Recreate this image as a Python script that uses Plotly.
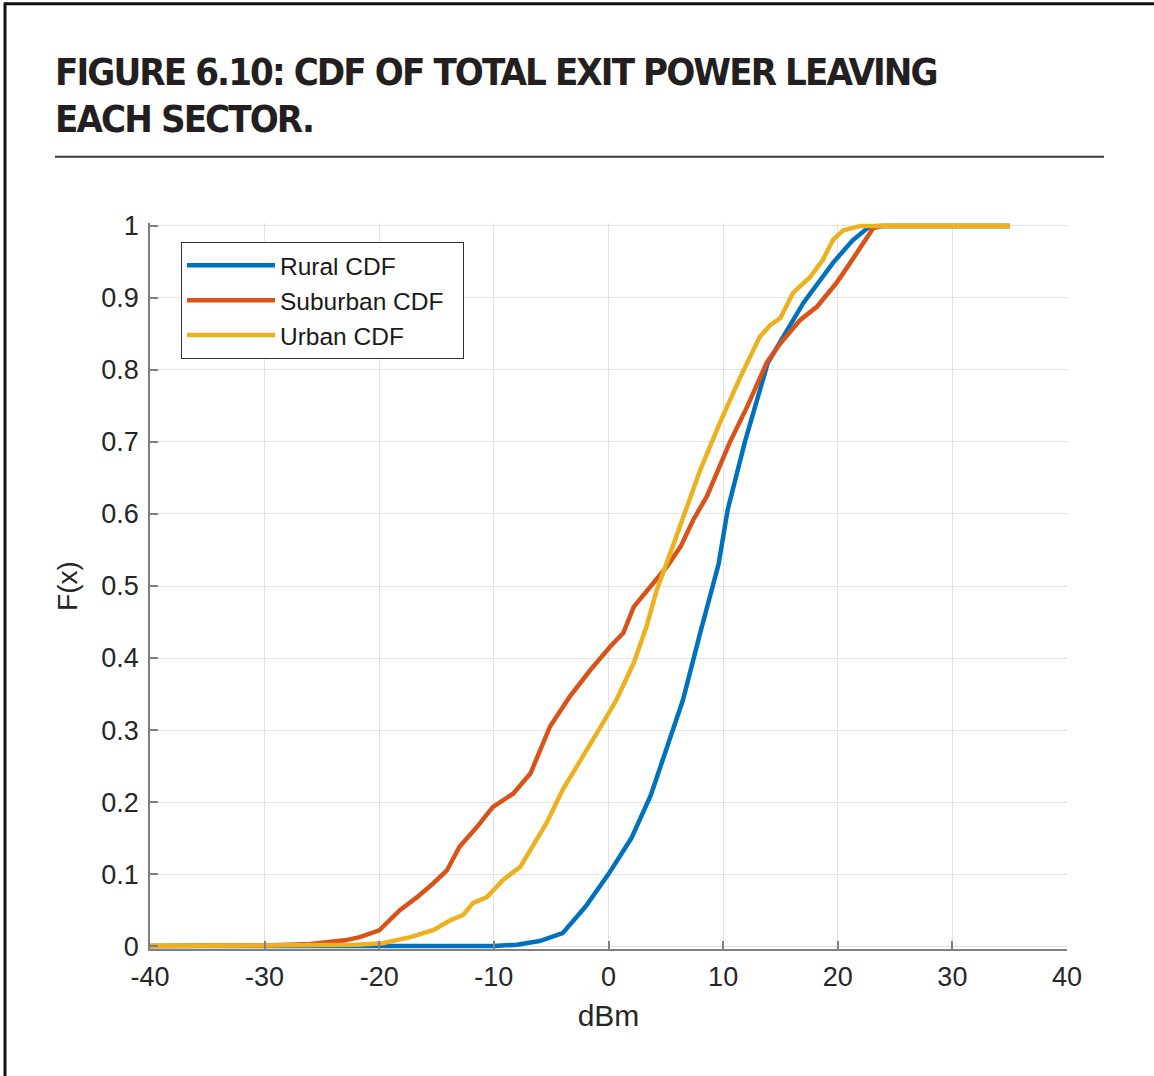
import plotly.graph_objects as go

# ---------------- data ----------------
rural_x = [-40, -25, -10, -8, -6, -4, -2, 0, 2, 3.7, 5.4, 6.5, 8.0, 9.6, 10.4, 11.9,
           13.9, 15.2, 17.0, 19.6, 21.3, 22.6, 23.5, 35]
rural_y = [0, 0, 0, 0.002, 0.007, 0.018, 0.055, 0.1, 0.15, 0.21, 0.29, 0.342, 0.435,
           0.53, 0.606, 0.70, 0.81, 0.846, 0.893, 0.949, 0.98, 0.997, 1.0, 1.0]

suburban_x = [-40, -30, -26, -23, -21.7, -20, -18.2, -16.7, -15.3, -14.1, -13.0, -11.5,
              -10.1, -8.3, -6.8, -5.1, -3.4, -1.6, 0.1, 1.3, 2.2, 3.9, 5.1, 6.3, 7.4,
              8.6, 10.6, 12.1, 13.8, 15.0, 16.7, 18.2, 19.9, 21.1, 22.2, 23.1, 24, 35]
suburban_y = [0, 0.001, 0.003, 0.008, 0.0125, 0.022, 0.05, 0.068, 0.087, 0.105, 0.138,
              0.165, 0.193, 0.212, 0.24, 0.305, 0.346, 0.383, 0.415, 0.435, 0.471,
              0.504, 0.527, 0.555, 0.592, 0.625, 0.70, 0.749, 0.81, 0.837, 0.869,
              0.888, 0.921, 0.949, 0.976, 0.997, 1.0, 1.0]

urban_x = [-40, -25, -22, -19.7, -17.3, -15.3, -13.8, -12.7, -11.8, -10.6, -9.2, -7.7,
           -6.6, -5.4, -4.0, -2.5, -1.0, 0.7, 2.2, 3.3, 4.2, 5.4, 6.3, 7.1, 8.0, 9.7,
           11.5, 13.2, 14.1, 15.0, 16.1, 17.6, 18.7, 19.6, 20.5, 22, 35]
urban_y = [0, 0.001, 0.002, 0.004, 0.0125, 0.022, 0.036, 0.043, 0.06, 0.068, 0.092,
           0.11, 0.138, 0.171, 0.217, 0.258, 0.296, 0.342, 0.393, 0.443, 0.494, 0.546,
           0.587, 0.62, 0.661, 0.726, 0.79, 0.846, 0.862, 0.872, 0.907, 0.929, 0.953,
           0.981, 0.994, 1.0, 1.0]

series_names = ["Rural CDF", "Suburban CDF", "Urban CDF"]
x_ticks = [-40, -30, -20, -10, 0, 10, 20, 30, 40]
y_ticks = [0, 0.1, 0.2, 0.3, 0.4, 0.5, 0.6, 0.7, 0.8, 0.9, 1]
y_ticktext = ["0", "0.1", "0.2", "0.3", "0.4", "0.5", "0.6", "0.7", "0.8", "0.9", "1"]
title_lines = ["FIGURE 6.10: CDF OF TOTAL EXIT POWER LEAVING", "EACH SECTOR."]
x_label = "dBm"
y_label = "F(x)"

# ---------------- layout geometry ----------------
W, H = 1154, 1076
PL, PR, PT, PB = 150, 1067, 226, 946  # plot area in px
YPAD = 0.004
top_px = PT - (PB - PT) * YPAD
bot_px = PB + (PB - PT) * YPAD


def px_x(px):
    return (px - PL) / (PR - PL)


def px_y(py):
    return (bot_px - py) / (bot_px - top_px)


colors = ["#0072BD", "#D95319", "#EDB120"]
fig = go.Figure()
for xs, ys, name, c in zip([rural_x, suburban_x, urban_x],
                           [rural_y, suburban_y, urban_y], series_names, colors):
    fig.add_trace(go.Scatter(x=xs, y=ys, name=name + "\u00a0\u00a0", mode="lines",
                             legendgroup=name, line=dict(color=c, width=4.5)))

sans = "Liberation Sans, Arial, sans-serif"
tick_font = dict(family=sans, size=27, color="#262626")
common = dict(showgrid=True, gridcolor="#e3e3e3", gridwidth=1,
              showline=True, linecolor="#808080", linewidth=1.5,
              ticks="inside", ticklen=8, tickcolor="#808080", tickwidth=1.5,
              zeroline=False, tickfont=tick_font)
fig.update_xaxes(range=[-40, 40], tickvals=x_ticks, ticktext=[str(v) for v in x_ticks],
                 ticklabelstandoff=3,
                 title=dict(text=x_label, font=dict(family=sans, size=30, color="#262626"),
                            standoff=14), **common)
fig.update_yaxes(range=[-YPAD, 1 + YPAD], tickvals=y_ticks, ticktext=y_ticktext,
                 ticklabelstandoff=4,
                 title=dict(text=y_label, font=dict(family=sans, size=28, color="#262626"),
                            standoff=16), **common)

shapes = [
    # outer frame (left and top)
    dict(type="line", xref="paper", yref="paper", x0=px_x(5), x1=px_x(5), y0=px_y(3), y1=px_y(1080),
         line=dict(color="#111111", width=3)),
    dict(type="line", xref="paper", yref="paper", x0=px_x(4), x1=px_x(1160), y0=px_y(4), y1=px_y(4),
         line=dict(color="#111111", width=3)),
    # separator under title
    dict(type="line", xref="paper", yref="paper", x0=px_x(55), x1=px_x(1104), y0=px_y(157), y1=px_y(157),
         line=dict(color="#3a3a3a", width=2)),
]

title_font = dict(family="DejaVu Sans Condensed, Liberation Sans Narrow, sans-serif",
                  size=38, color="#231f20", weight="bold")
annotations = [
    dict(text='<span style="letter-spacing:-1.9px">' + title_lines[0] + '</span>',
         xref="paper", yref="paper", x=px_x(53), y=px_y(72),
         xanchor="left", yanchor="middle", showarrow=False, font=title_font),
    dict(text='<span style="letter-spacing:-1.9px">' + title_lines[1] + '</span>',
         xref="paper", yref="paper", x=px_x(53), y=px_y(119),
         xanchor="left", yanchor="middle", showarrow=False, font=title_font),
]

fig.update_layout(
    width=W, height=H, autosize=False,
    margin=dict(l=PL, r=W - PR, t=top_px, b=H - bot_px, pad=0),
    paper_bgcolor="white", plot_bgcolor="white",
    shapes=shapes, annotations=annotations,
    legend=dict(x=px_x(181), y=px_y(242), xanchor="left", yanchor="top",
                bgcolor="white", bordercolor="#333333", borderwidth=1,
                font=dict(family=sans, size=24.5, color="#1a1a1a"),
                itemwidth=88, tracegroupgap=0, traceorder="grouped"),
)

fig.write_html("out.html")
